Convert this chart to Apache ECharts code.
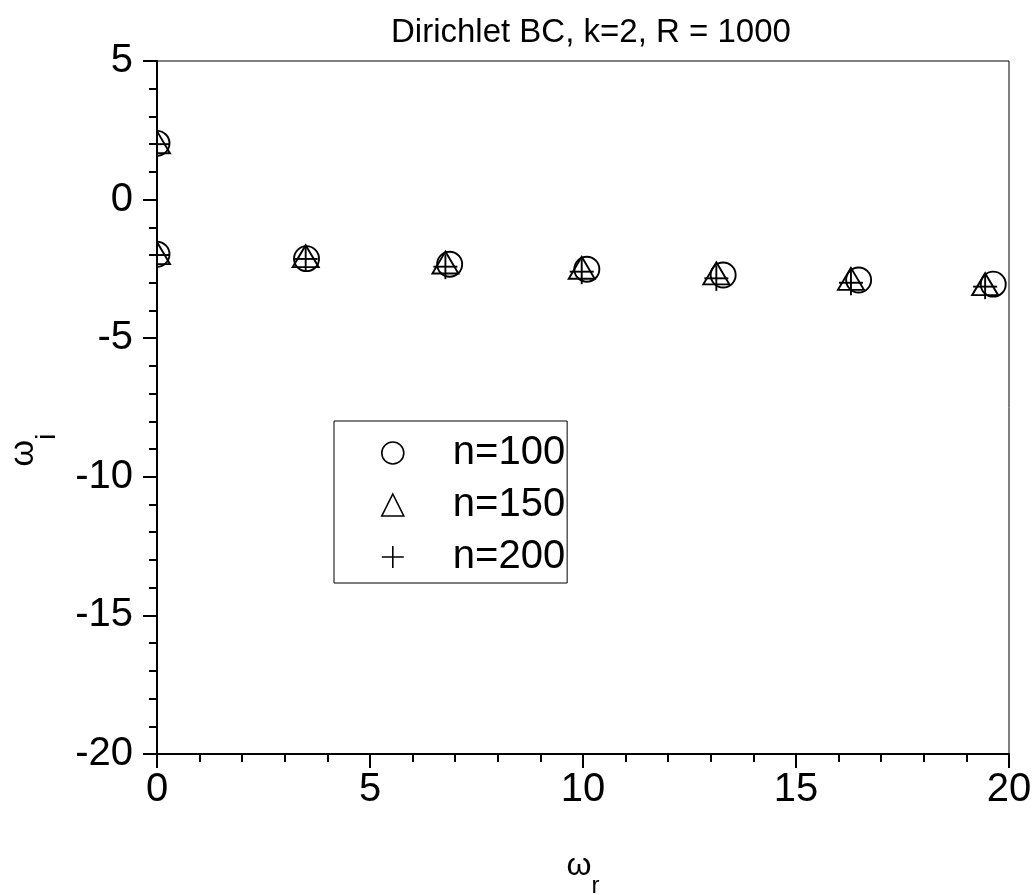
<!DOCTYPE html>
<html>
<head>
<meta charset="utf-8">
<script src="https://cdn.jsdelivr.net/npm/echarts@6/dist/echarts.min.js"></script>
<style>
html,body{margin:0;padding:0;background:#fff;}
#chart{width:1036px;height:895px;}
</style>
</head>
<body>
<div id="chart"></div>
<script>
// ---- data ----
const seriesNames = ['n=100', 'n=150', 'n=200'];
const omegaR_n100 = [0, 0, 3.51, 6.87, 10.09, 13.29, 16.47, 19.63];
const omegaI_n100 = [2.03, -1.97, -2.13, -2.33, -2.51, -2.72, -2.90, -3.05];
const omegaR_n150 = [0, 0, 3.49, 6.77, 9.97, 13.13, 16.29, 19.44];
const omegaI_n150 = [2.07, -1.93, -2.04, -2.27, -2.46, -2.66, -2.86, -3.05];
const omegaR_n200 = [0, 0, 3.49, 6.77, 9.97, 13.13, 16.29, 19.44];
const omegaI_n200 = [2.00, -2.00, -2.14, -2.42, -2.60, -2.84, -3.00, -3.14];
const titleText = 'Dirichlet BC, k=2, R = 1000';
const xMin = 0, xMax = 20, xStep = 5;
const yMin = -20, yMax = 5, yStep = 5;

function pairs(xs, ys) { return xs.map((x, i) => [x, ys[i]]); }

const FONT = "'Liberation Sans', Arial, sans-serif";
const chart = echarts.init(document.getElementById('chart'), null, {renderer: 'canvas'});

const STROKE = {fill: 'none', stroke: '#000', lineWidth: 1.9};

// clip a polygon to the plot rectangle (Sutherland-Hodgman)
function clipPolygon(pts, cs) {
  const edges = [
    [p => p[0] >= cs.x, (a, b) => { const t = (cs.x - a[0]) / (b[0] - a[0]); return [cs.x, a[1] + t * (b[1] - a[1])]; }],
    [p => p[0] <= cs.x + cs.width, (a, b) => { const X = cs.x + cs.width; const t = (X - a[0]) / (b[0] - a[0]); return [X, a[1] + t * (b[1] - a[1])]; }],
    [p => p[1] >= cs.y, (a, b) => { const t = (cs.y - a[1]) / (b[1] - a[1]); return [a[0] + t * (b[0] - a[0]), cs.y]; }],
    [p => p[1] <= cs.y + cs.height, (a, b) => { const Y = cs.y + cs.height; const t = (Y - a[1]) / (b[1] - a[1]); return [a[0] + t * (b[0] - a[0]), Y]; }]
  ];
  let out = pts;
  edges.forEach(([inside, cut]) => {
    const inp = out; out = [];
    for (let i = 0; i < inp.length; i++) {
      const cur = inp[i], prev = inp[(i + inp.length - 1) % inp.length];
      if (inside(cur)) {
        if (!inside(prev)) out.push(cut(prev, cur));
        out.push(cur);
      } else if (inside(prev)) {
        out.push(cut(prev, cur));
      }
    }
  });
  return out;
}

// marker shapes drawn around the pixel point given by the axes, clipped to the plot
function circleMark(p, cs) {
  const r = 12.5;
  if (p[0] - r < cs.x) {
    const a = Math.acos(Math.max(-1, Math.min(1, (cs.x - p[0]) / r)));
    return {type: 'arc', shape: {cx: p[0], cy: p[1], r: r, startAngle: -a, endAngle: a, clockwise: true}, style: STROKE};
  }
  return {type: 'circle', shape: {cx: p[0], cy: p[1], r: r}, style: STROKE};
}
function triangleMark(p, cs) {
  const pts = clipPolygon([[p[0], p[1] - 11], [p[0] + 13, p[1] + 11], [p[0] - 13, p[1] + 11]], cs);
  return {type: 'polygon', shape: {points: pts}, style: STROKE};
}
function plusMark(p, cs) {
  const kids = [];
  if (p[0] >= cs.x) kids.push({type: 'line', shape: {x1: p[0], y1: p[1] - 12.5, x2: p[0], y2: p[1] + 12.5}, style: STROKE});
  kids.push({type: 'line', shape: {x1: Math.max(cs.x, p[0] - 12), y1: p[1], x2: p[0] + 12, y2: p[1]}, style: STROKE});
  return {type: 'group', children: kids};
}
function makeRender(shapeFn) {
  return function (params, api) {
    const p = api.coord([api.value(0), api.value(1)]);
    return shapeFn(p, params.coordSys);
  };
}

const markerItemStyle = {color: 'transparent', borderColor: '#000', borderWidth: 1.6};

const option = {
  backgroundColor: '#fff',
  animation: false,
  title: {
    text: titleText,
    left: 386, top: 11,
    textStyle: {fontFamily: FONT, fontSize: 33, fontWeight: 'normal', color: '#000'}
  },
  grid: {
    left: 157, right: 27, top: 61, bottom: 141,
    outerBoundsMode: 'none', containLabel: false,
    show: true, borderColor: '#000', borderWidth: 1, backgroundColor: 'transparent'
  },
  legend: {
    orient: 'vertical',
    left: 334, top: 421,
    borderColor: '#000', borderWidth: 1,
    padding: [11, 2, 5, 47],
    itemGap: 10,
    itemWidth: 22, itemHeight: 22,
    selectedMode: false,
    itemStyle: markerItemStyle,
    textStyle: {fontFamily: FONT, fontSize: 40, color: '#000', lineHeight: 42, padding: [0, 0, 0, 44]},
    data: [
      {name: seriesNames[0], icon: 'circle'},
      {name: seriesNames[1], icon: 'triangle'},
      {name: seriesNames[2], icon: 'path://M12,0L12,24M0,12L24,12'}
    ]
  },
  xAxis: {
    type: 'value', min: xMin, max: xMax, interval: xStep, z: 10,
    name: '{w|ω}{s|r}', nameLocation: 'middle', nameGap: 96,
    nameTextStyle: {
      rich: {
        w: {fontFamily: FONT, fontSize: 32, lineHeight: 32, verticalAlign: 'top', color: '#000'},
        s: {fontFamily: FONT, fontSize: 24, lineHeight: 24, padding: [24, 0, 0, 0], verticalAlign: 'top', color: '#000'}
      }
    },
    axisLine: {show: true, onZero: false, lineStyle: {color: '#000', width: 2}},
    axisTick: {show: true, inside: false, length: 14, lineStyle: {color: '#000', width: 2}},
    minorTick: {show: true, splitNumber: 5, length: 8, lineStyle: {color: '#000', width: 2}},
    axisLabel: {fontFamily: FONT, fontSize: 40, color: '#000', margin: 16},
    splitLine: {show: false}
  },
  yAxis: {
    type: 'value', min: yMin, max: yMax, interval: yStep, z: 10,
    axisLine: {show: true, onZero: false, lineStyle: {color: '#000', width: 2}},
    axisTick: {show: true, inside: false, length: 14, lineStyle: {color: '#000', width: 2}},
    minorTick: {show: true, splitNumber: 5, length: 8, lineStyle: {color: '#000', width: 2}},
    axisLabel: {fontFamily: FONT, fontSize: 40, color: '#000', margin: 24},
    splitLine: {show: false}
  },
  graphic: [
    {
      type: 'text', z: 20, x: 24, y: 450, rotation: Math.PI / 2,
      style: {
        text: '{w|ω}{s|i}', align: 'center', verticalAlign: 'middle',
        rich: {
          w: {fontFamily: FONT, fontSize: 34, lineHeight: 34, verticalAlign: 'top', fill: '#000'},
          s: {fontFamily: FONT, fontSize: 28, lineHeight: 28, padding: [26, 0, 0, 0], verticalAlign: 'top', fill: '#000'}
        }
      }
    }
  ],
  series: [
    {
      name: seriesNames[0], type: 'custom', clip: true, z: 2,
      itemStyle: markerItemStyle,
      encode: {x: 0, y: 1},
      renderItem: makeRender(circleMark),
      data: pairs(omegaR_n100, omegaI_n100)
    },
    {
      name: seriesNames[1], type: 'custom', clip: true, z: 2,
      itemStyle: markerItemStyle,
      encode: {x: 0, y: 1},
      renderItem: makeRender(triangleMark),
      data: pairs(omegaR_n150, omegaI_n150)
    },
    {
      name: seriesNames[2], type: 'custom', clip: true, z: 2,
      itemStyle: markerItemStyle,
      encode: {x: 0, y: 1},
      renderItem: makeRender(plusMark),
      data: pairs(omegaR_n200, omegaI_n200)
    }
  ]
};
chart.setOption(option);
</script>
</body>
</html>
